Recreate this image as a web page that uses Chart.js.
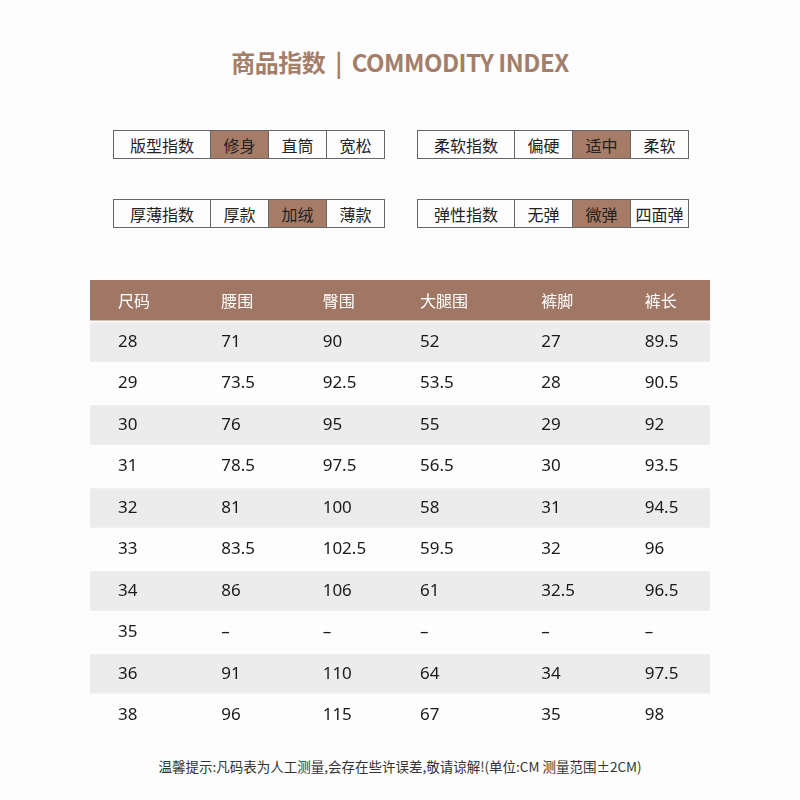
<!DOCTYPE html>
<html><head><meta charset="utf-8">
<script src="https://cdn.jsdelivr.net/npm/chart.js@4"></script>
<style>
body{margin:0;width:800px;height:800px;background:#fdfdfd;font-family:"Noto Sans CJK SC","Noto Sans",sans-serif;position:relative;overflow:hidden}
.title{position:absolute;top:44px;left:0;width:800px;text-align:center;font-size:24px;font-weight:bold;color:#a47e69;letter-spacing:-0.5px}
.grp{position:absolute;display:flex;border:1px solid #666;height:29px;box-sizing:border-box;font-size:16px;color:#222}
.grp div{border-left:1px solid #666;display:flex;align-items:center;justify-content:center;width:57px}
.grp div:first-child{border-left:none;width:96px}
.grp .on{background:#a77c67;color:#222}
.note{position:absolute;top:756px;left:0;width:800px;text-align:center;font-size:13.5px;color:#333}
#wrap{position:absolute;left:90px;top:280px;width:620px;height:456px}
</style></head><body>
<div class="title">商品指数 &nbsp;|&nbsp; COMMODITY INDEX</div>
<div class="grp" style="left:113px;top:130px"><div>版型指数</div><div class="on">修身</div><div>直筒</div><div>宽松</div></div>
<div class="grp" style="left:417px;top:130px"><div>柔软指数</div><div>偏硬</div><div class="on">适中</div><div>柔软</div></div>
<div class="grp" style="left:113px;top:199px"><div>厚薄指数</div><div>厚款</div><div class="on">加绒</div><div>薄款</div></div>
<div class="grp" style="left:417px;top:199px"><div>弹性指数</div><div>无弹</div><div class="on">微弹</div><div>四面弹</div></div>
<div id="wrap"><canvas id="c"></canvas></div>
<div class="note">温馨提示:凡码表为人工测量,会存在些许误差,敬请谅解!(单位:CM 测量范围±2CM)</div>
<script>
const headers=["尺码","腰围","臀围","大腿围","裤脚","裤长"];
const sizes=[28,29,30,31,32,33,34,35,36,38];
const waist=[71,73.5,76,78.5,81,83.5,86,null,91,96];
const hip=[90,92.5,95,97.5,100,102.5,106,null,110,115];
const thigh=[52,53.5,55,56.5,58,59.5,61,null,64,67];
const hem=[27,28,29,30,31,32,32.5,null,34,35];
const length=[89.5,90.5,92,93.5,94.5,96,96.5,null,97.5,98];
const cols=[sizes,waist,hip,thigh,hem,length];
const offs=[28,28,26,20,38,38];
const pts=[];
cols.forEach((c,ci)=>c.forEach((v,ri)=>pts.push({x:ci,y:ri,t:v==null?"–":String(v)})));
headers.forEach((h,ci)=>pts.push({x:ci,y:-1,t:h,h:true}));
const tablePlugin={id:'tbl',beforeDatasetsDraw(ch){
 const {ctx,scales:{x,y}}=ch;const l=x.getPixelForValue(0),r=x.getPixelForValue(6);
 ctx.save();
 for(let i=-1;i<sizes.length;i++){
  const t=y.getPixelForValue(i-0.5),b=y.getPixelForValue(i+0.5);
  if(i===-1){ctx.fillStyle='#a07764';ctx.fillRect(l,t,r-l,b-t-1);}
  else if(i%2===0){ctx.fillStyle='#ececec';ctx.fillRect(l,t+1,r-l,b-t-2);}
 }
 ctx.textBaseline='middle';
 pts.forEach(p=>{
  ctx.font=p.h?'16px "Noto Sans CJK SC"':'17px "Noto Sans","Noto Sans CJK SC"';
  ctx.fillStyle=p.h?'#fff':'#1a1a1a';
  ctx.fillText(p.t,x.getPixelForValue(p.x)+offs[p.x],y.getPixelForValue(p.y));
 });
 ctx.restore();}};
new Chart(document.getElementById('c'),{type:'scatter',
 data:{datasets:[{data:pts,pointRadius:0}]},
 options:{responsive:true,maintainAspectRatio:false,animation:false,
  layout:{padding:0},
  plugins:{legend:{display:false},tooltip:{enabled:false}},
  scales:{x:{type:'linear',min:0,max:6,display:false},
          y:{type:'linear',min:-1.5,max:9.5,reverse:true,display:false}}},
 plugins:[tablePlugin]});
</script>
</body></html>
